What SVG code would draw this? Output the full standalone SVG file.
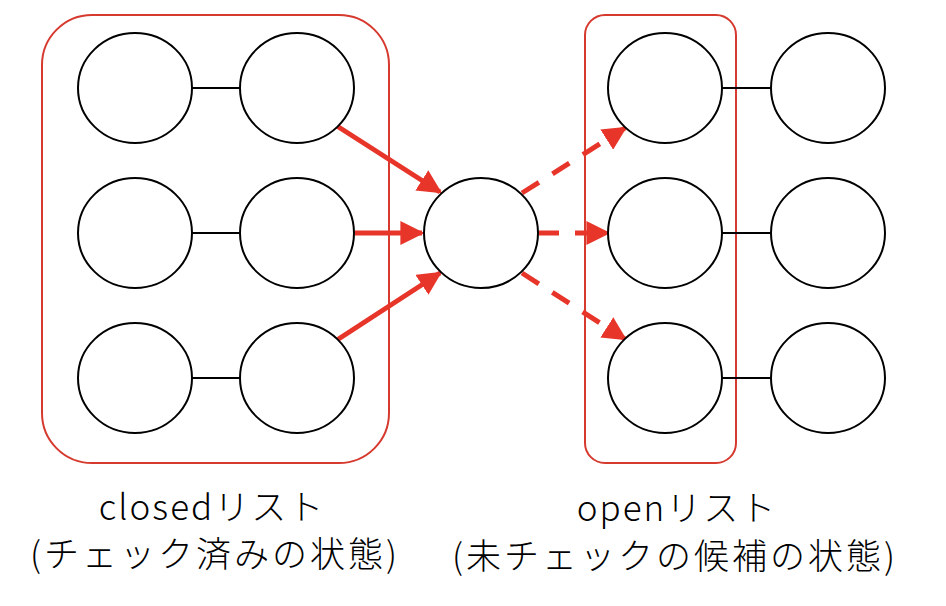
<svg xmlns="http://www.w3.org/2000/svg" width="946" height="606" viewBox="0 0 946 606">
<style>
.n{fill:#fff;stroke:#000;stroke-width:2}
.l{stroke:#000;stroke-width:2}
.g{fill:none;stroke:#d63a2f;stroke-width:2}
.a{stroke:#e8352a;stroke-width:5;fill:none}
.d{stroke-dasharray:20 16}
.t{font-family:"Noto Sans CJK JP","Noto Sans",sans-serif;font-weight:300;font-size:35px;fill:#000;text-anchor:middle}
</style>
<defs>
<marker id="ah" viewBox="0 0 10 10" refX="9" refY="5" markerWidth="4.8" markerHeight="4.8" markerUnits="strokeWidth" orient="auto">
<path d="M0,0 L10,5 L0,10 z" fill="#e8352a"/>
</marker>
</defs>
<g id="closed-group"><rect class="g" x="42" y="15" width="347" height="448" rx="50"/></g>
<g id="open-group"><rect class="g" x="585" y="15" width="151" height="448" rx="20"/></g>
<g id="connectors">
<line class="l" x1="192" y1="88" x2="240" y2="88"/>
<line class="l" x1="192" y1="233" x2="240" y2="233"/>
<line class="l" x1="192" y1="378" x2="240" y2="378"/>
<line class="l" x1="722" y1="88" x2="771" y2="88"/>
<line class="l" x1="722" y1="233" x2="771" y2="233"/>
<line class="l" x1="722" y1="378" x2="771" y2="378"/>
<line class="a" x1="337" y1="126" x2="440" y2="192" marker-end="url(#ah)"/>
<line class="a" x1="355" y1="233" x2="422" y2="233" marker-end="url(#ah)"/>
<line class="a" x1="337" y1="340" x2="440" y2="273" marker-end="url(#ah)"/>
<line class="a d" x1="522" y1="193" x2="625" y2="128" marker-end="url(#ah)"/>
<line class="a d" x1="539" y1="233" x2="608" y2="233" marker-end="url(#ah)"/>
<line class="a d" x1="522" y1="273" x2="625" y2="339" marker-end="url(#ah)"/>
</g>
<g id="c1"><ellipse class="n" cx="135" cy="88" rx="57" ry="55"/></g>
<g id="c2"><ellipse class="n" cx="297" cy="88" rx="57" ry="55"/></g>
<g id="c3"><ellipse class="n" cx="135" cy="233" rx="57" ry="55"/></g>
<g id="c4"><ellipse class="n" cx="297" cy="233" rx="57" ry="55"/></g>
<g id="c5"><ellipse class="n" cx="135" cy="378" rx="57" ry="55"/></g>
<g id="c6"><ellipse class="n" cx="297" cy="378" rx="57" ry="55"/></g>
<g id="center"><ellipse class="n" cx="481" cy="233" rx="57" ry="55"/></g>
<g id="o1"><ellipse class="n" cx="665" cy="88" rx="57" ry="55"/></g>
<g id="o2"><ellipse class="n" cx="828" cy="88" rx="57" ry="55"/></g>
<g id="o3"><ellipse class="n" cx="665" cy="233" rx="57" ry="55"/></g>
<g id="o4"><ellipse class="n" cx="828" cy="233" rx="57" ry="55"/></g>
<g id="o5"><ellipse class="n" cx="665" cy="378" rx="57" ry="55"/></g>
<g id="o6"><ellipse class="n" cx="828" cy="378" rx="57" ry="55"/></g>
<g id="labels">
<text class="t" x="212" y="520" letter-spacing="2">closedリスト</text>
<text class="t" x="215" y="567" letter-spacing="3">(チェック済みの状態)</text>
<text class="t" x="677" y="521" letter-spacing="2">openリスト</text>
<text class="t" x="675" y="569" letter-spacing="3">(未チェックの候補の状態)</text>
</g>
</svg>
